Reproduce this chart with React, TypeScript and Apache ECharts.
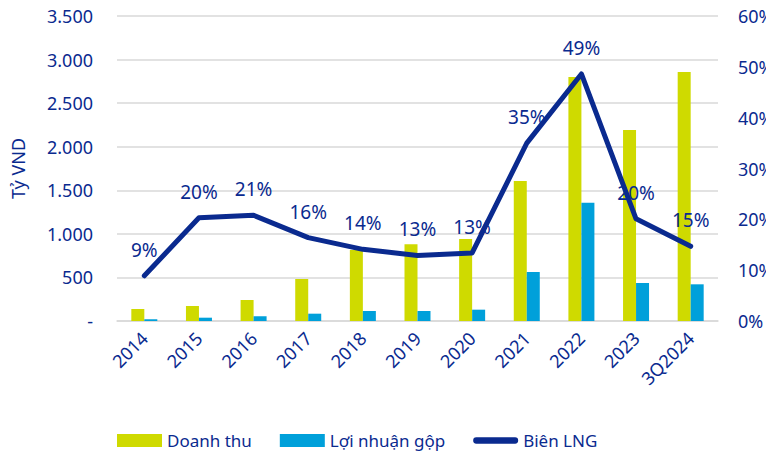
import React, { useEffect, useRef } from "react";
import * as echarts from "echarts";

const categories = ["2014", "2015", "2016", "2017", "2018", "2019", "2020", "2021", "2022", "2023", "3Q2024"];
const revenue = [138, 172, 241, 482, 815, 880, 941, 1607, 2800, 2192, 2857];
const grossProfit = [20, 38, 54, 84, 115, 115, 130, 562, 1358, 436, 421];
const margin = [8.9, 20.3, 20.8, 16.4, 14.1, 12.9, 13.4, 35.0, 48.6, 20.1, 14.7];

const NAVY = "#0a2a8f";
const FONT = "Noto Sans";

export default function App() {
  const ref = useRef<HTMLDivElement>(null);
  useEffect(() => {
    if (!ref.current) return;
    const chart = echarts.init(ref.current, undefined, { renderer: "svg" });
    chart.setOption({
      animation: false,
      textStyle: { fontFamily: FONT },
      grid: { left: 117, right: 48, top: 16, bottom: 136, outerBoundsMode: "none", containLabel: false },
      legend: {
        bottom: 3,
        left: 112,
        itemWidth: 45,
        itemHeight: 13,
        itemGap: 28,
        textStyle: { color: NAVY, fontSize: 17, fontFamily: FONT },
        data: [
          { name: "Doanh thu", icon: "rect" },
          { name: "Lợi nhuận gộp", icon: "rect" },
          {
            name: "Biên LNG",
            icon: "path://M3.5,0 H46.5 A3.5,3.5 0 0 1 46.5,7 H3.5 A3.5,3.5 0 0 1 3.5,0 Z",
            itemStyle: { color: NAVY },
          },
        ],
      },
      xAxis: {
        type: "category",
        data: categories,
        axisLine: { lineStyle: { color: "#d9d9d9", width: 1.5 } },
        axisTick: { show: false },
        axisLabel: { color: NAVY, fontSize: 18, rotate: 45, margin: 14, fontFamily: FONT },
      },
      yAxis: [
        {
          type: "value",
          min: 0,
          max: 3500,
          interval: 500,
          name: "Tỷ VND",
          nameLocation: "middle",
          nameGap: 90,
          nameTextStyle: { color: NAVY, fontSize: 18, fontFamily: FONT },
          axisLine: { show: false },
          axisTick: { show: false },
          splitLine: { lineStyle: { color: "#d9d9d9", width: 1.5 } },
          axisLabel: {
            color: NAVY,
            fontSize: 18,
            margin: 24,
            fontFamily: FONT,
            formatter: (v: number) => (v === 0 ? "-" : v.toLocaleString("de-DE")),
          },
        },
        {
          type: "value",
          min: 0,
          max: 60,
          interval: 10,
          axisLine: { show: false },
          axisTick: { show: false },
          splitLine: { show: false },
          axisLabel: { color: NAVY, fontSize: 18, margin: 20, fontFamily: FONT, formatter: "{value}%" },
        },
      ],
      series: [
        {
          name: "Doanh thu",
          type: "bar",
          data: revenue,
          barWidth: 13,
          barGap: "0%",
          itemStyle: { color: "#cfda00" },
        },
        {
          name: "Lợi nhuận gộp",
          type: "bar",
          data: grossProfit,
          barWidth: 13,
          barGap: "0%",
          itemStyle: { color: "#00a0da" },
        },
        {
          name: "Biên LNG",
          type: "line",
          yAxisIndex: 1,
          data: margin,
          symbol: "circle",
          symbolSize: 1,
          z: 5,
          lineStyle: { color: NAVY, width: 5, cap: "round", join: "round" },
          itemStyle: { color: NAVY },
          label: {
            show: true,
            position: "top",
            distance: 16,
            color: NAVY,
            fontSize: 19,
            fontFamily: FONT,
            formatter: (p: any) => Math.round(p.value) + "%",
          },
        },
      ],
    });
    return () => chart.dispose();
  }, []);
  return <div ref={ref} style={{ width: 766, height: 457, position: "absolute", left: 0, top: 0 }} />;
}
